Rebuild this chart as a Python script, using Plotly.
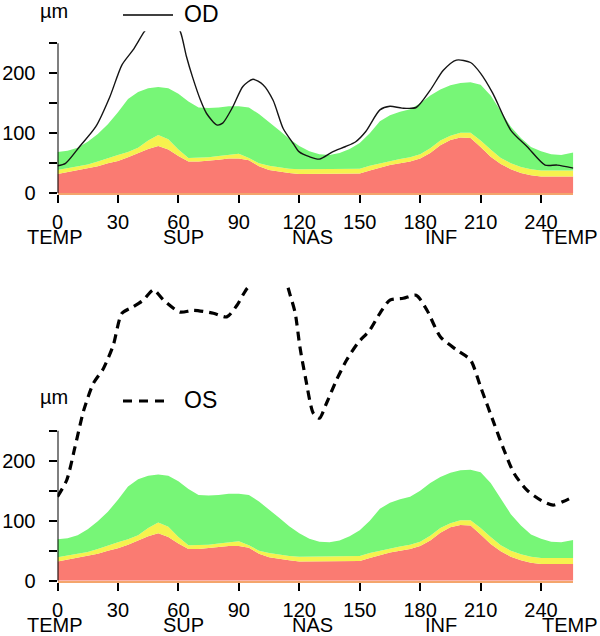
import plotly.graph_objects as go

# ---------------- data ----------------
angle = [0, 5, 10, 15, 20, 25, 30, 35, 40, 45, 50, 55, 60, 65, 70, 75, 80, 85, 90, 95,
         100, 105, 110, 115, 120, 125, 130, 135, 140, 145, 150, 155, 160, 165, 170, 175,
         180, 185, 190, 195, 200, 205, 210, 215, 220, 225, 230, 235, 240, 245, 250, 256]

red_top = [32, 35, 38, 41, 45, 50, 54, 60, 67, 74, 79, 73, 62, 53, 53, 54, 56, 58, 58, 55,
           45, 39, 36, 34, 32, 32, 32, 32, 32, 32, 33, 38, 43, 47, 50, 53,
           58, 67, 80, 89, 93, 92, 77, 61, 49, 40, 34, 30, 28, 28, 28, 28]

yellow_top = [39, 42, 45, 48, 53, 59, 64, 69, 76, 88, 97, 90, 73, 59, 59, 60, 62, 64, 66, 59,
              50, 46, 43, 41, 40, 40, 40, 40, 40, 40, 41, 46, 50, 54, 57, 60,
              65, 75, 88, 96, 101, 101, 88, 73, 59, 50, 44, 40, 38, 38, 38, 38]

green_top = [69, 71, 76, 86, 99, 115, 135, 157, 169, 175, 177, 175, 166, 153, 143, 142, 143, 145, 145, 143,
             132, 119, 105, 91, 79, 70, 65, 64, 67, 74, 84, 100, 120, 130, 136, 140,
             150, 163, 173, 180, 184, 185, 181, 163, 136, 111, 92, 77, 70, 65, 64, 68]

od_angle = [0, 4, 11, 19, 26, 32, 37.5, 43, 48, 52, 57, 61, 64, 67, 71, 74, 79, 82, 87, 92,
            97, 102, 107, 112, 117, 120, 125, 130, 136.5, 143, 148, 153, 160, 165, 171, 178,
            185, 191.5, 198, 205, 210, 216, 225, 233, 242, 248, 256]
od_values = [46, 50, 78, 111, 161, 214, 239, 269, 290, 298, 290, 269, 228, 194, 155, 133, 114, 117, 144, 178,
             190, 181, 155, 108, 83, 69, 61, 57, 69, 78, 86, 103, 139, 145, 142, 143,
             172, 205, 222, 218, 200, 167, 105, 78, 47, 47, 42]

os_angle = [0, 4.6, 8.7, 13, 17.8, 22.8, 27.7, 32, 37.6, 42.6, 47.6, 52.6, 60.8, 67.5, 77.4, 84, 89, 94,
            100, 107, 113, 115.5, 118, 120.3, 123, 127, 130, 133.5, 138.5, 143.5, 149, 155, 160, 165,
            171.6, 178, 183.4, 190, 198, 205, 210, 216.7, 221.6, 226.6, 233, 240, 246, 251, 256]
os_values = [140, 168, 223, 284, 329, 354, 393, 446, 457, 468, 485, 468, 448, 451, 446, 440, 459, 487,
             505, 510, 500, 476, 446, 390, 340, 279, 271, 296, 335, 368, 396, 418, 446, 468,
             471, 476, 451, 407, 385, 368, 323, 262, 218, 179, 151, 134, 126, 132, 140]

x_ticks = [0, 30, 60, 90, 120, 150, 180, 210, 240]
y_ticks = [0, 50, 100, 150, 200, 250]
y_tick_text = ["0", "", "100", "", "200", ""]
region_pos = [0, 64, 128, 192, 256]
region_labels = ["TEMP", "SUP", "NAS", "INF", "TEMP"]

# ---------------- style ----------------
W, H = 600, 636
FONT = "Liberation Sans, Arial, sans-serif"
RED = "#fa7b72"
YELLOW = "#f6f24e"
GREEN = "#77f677"
BASE = "#f4a56c"


def px_x(p):
    return p / W


def px_y(p):
    return 1 - p / H


x_dom = [px_x(57.5), px_x(573.3)]
top_dom = [px_y(193.3), px_y(31.3)]
bot_dom = [px_y(580.7), px_y(285.7)]
top_range = [0, 270]
bot_range = [0, 492]

fig = go.Figure()

panels = [
    ("x", "y", od_angle, od_values, dict(color="#151515", width=1.4)),
    ("x2", "y2", os_angle, os_values, dict(color="black", width=3.2, dash="9px,6px")),
]

for xa, ya, ang, vals, lstyle in panels:
    fig.add_trace(go.Scatter(x=angle, y=red_top, xaxis=xa, yaxis=ya, mode="lines",
                             line=dict(width=0, color=RED), fill="tozeroy", fillcolor=RED,
                             hoverinfo="skip"))
    fig.add_trace(go.Scatter(x=angle, y=yellow_top, xaxis=xa, yaxis=ya, mode="lines",
                             line=dict(width=0, color=YELLOW), fill="tonexty", fillcolor=YELLOW,
                             hoverinfo="skip"))
    fig.add_trace(go.Scatter(x=angle, y=green_top, xaxis=xa, yaxis=ya, mode="lines",
                             line=dict(width=0, color=GREEN), fill="tonexty", fillcolor=GREEN,
                             hoverinfo="skip"))
    fig.add_trace(go.Scatter(x=ang, y=vals, xaxis=xa, yaxis=ya, mode="lines",
                             line=dict(shape="spline", smoothing=0.7, **lstyle)))

tickfont = dict(family=FONT, size=20, color="black")

xcommon = dict(range=[0, 256], domain=x_dom, tickvals=x_ticks, ticks="outside", ticklen=8,
               tickwidth=2, tickcolor="black", showline=True, linecolor=BASE, linewidth=2,
               showgrid=False, zeroline=False, tickfont=tickfont, ticklabelstandoff=2,
               fixedrange=True, automargin=False)
ycommon = dict(tickvals=y_ticks, ticktext=y_tick_text, ticks="outside", ticklen=8, tickwidth=2,
               tickcolor="black", showline=False, showgrid=False, zeroline=False,
               tickfont=tickfont, ticklabelstandoff=9, fixedrange=True, automargin=False)
yinner = dict(tickvals=y_ticks, ticks="inside", ticklen=8, tickwidth=2, tickcolor="black",
              showline=False, showgrid=False, zeroline=False, showticklabels=False,
              fixedrange=True)

fig.update_layout(
    width=W, height=H,
    margin=dict(l=0, r=0, t=0, b=0),
    paper_bgcolor="white", plot_bgcolor="rgba(0,0,0,0)",
    showlegend=False,
    font=dict(family=FONT, color="black"),
    xaxis=dict(anchor="y", **xcommon),
    yaxis=dict(anchor="x", domain=top_dom, range=top_range, **ycommon),
    xaxis2=dict(anchor="y2", **xcommon),
    yaxis2=dict(anchor="x2", domain=bot_dom, range=bot_range, **ycommon),
    yaxis3=dict(anchor="x", overlaying="y", range=top_range, **yinner),
    yaxis4=dict(anchor="x2", overlaying="y2", range=bot_range, **yinner),
)

shapes = []
annotations = []
for xr, yr, legend_y, unit_y, legend_name, dash in [("x", "y", 15, 11, "OD", "solid"),
                                                    ("x2", "y2", 401, 397, "OS", "9px,7px")]:
    # y axis spine from first to last tick
    shapes.append(dict(type="line", xref=xr, yref=yr, x0=0, x1=0,
                       y0=y_ticks[0], y1=y_ticks[-1], line=dict(color="black", width=2),
                       layer="above"))
    # region labels
    for pos, lab in zip(region_pos, region_labels):
        annotations.append(dict(x=pos, y=0, xref=xr, yref=yr, text=lab, showarrow=False,
                                yanchor="middle", yshift=-44, xshift=-3, font=tickfont))
    # unit label
    annotations.append(dict(x=px_x(54), y=px_y(unit_y),
                            xref="paper", yref="paper", text="µm", showarrow=False,
                            xanchor="center", yanchor="middle", font=tickfont))
    # legend
    shapes.append(dict(type="line", xref="paper", yref="paper", x0=px_x(123),
                       x1=px_x(173 if legend_name == "OD" else 167),
                       y0=px_y(legend_y), y1=px_y(legend_y),
                       line=dict(color="black", width=1.4 if legend_name == "OD" else 3.2,
                                 dash=dash)))
    annotations.append(dict(x=px_x(182), y=px_y(legend_y - 1), xref="paper", yref="paper",
                            text=legend_name, showarrow=False, xanchor="left",
                            yanchor="middle", font=dict(family=FONT, size=23, color="black")))

fig.update_layout(shapes=shapes, annotations=annotations)

fig.write_html(
    "out.html",
    config={"displayModeBar": False, "staticPlot": True},
    post_script="document.body.style.margin='0px';document.body.style.padding='0px';"
                "document.body.style.overflow='hidden';",
)
